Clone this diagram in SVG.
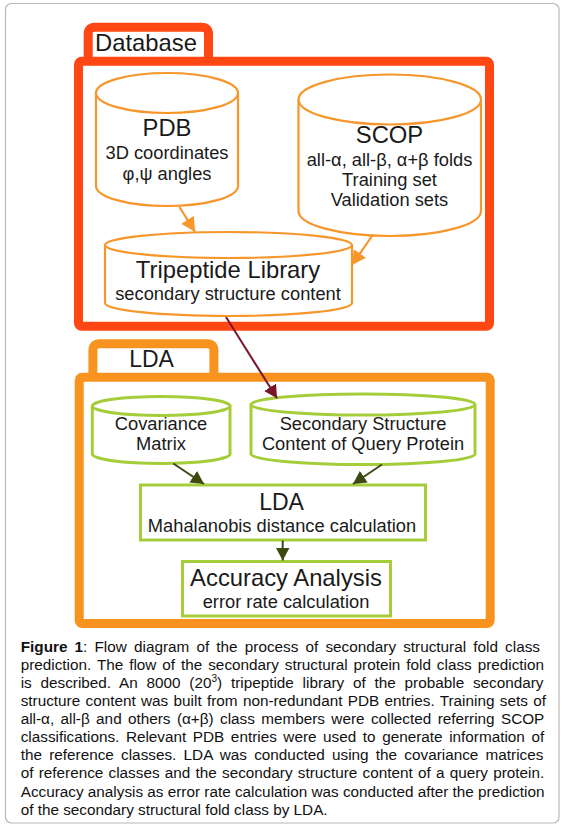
<svg xmlns="http://www.w3.org/2000/svg" width="563" height="829" viewBox="0 0 563 829">
<style>
text{font-family:"Liberation Sans",Arial,sans-serif;fill:#1a1a1a}
.c{text-anchor:middle}
.h{font-size:23.8px}
.l{font-size:23px}
.s{font-size:18.3px}
.cap{font-size:15.3px;fill:#111}
.cylO{fill:#fff;stroke:#F7962A;stroke-width:2.2}
.cylG{fill:#fff;stroke:#A5CD3A;stroke-width:3}
.boxG{fill:#fff;stroke:#A5CD3A;stroke-width:3}
.aO{stroke:#F7962A;stroke-width:2.2;fill:none}
.aM{stroke:#7A1428;stroke-width:2;fill:none}
.aG{stroke:#3C4A12;stroke-width:2;fill:none}
</style>
<defs>
<marker id="mO" markerUnits="userSpaceOnUse" markerWidth="15" markerHeight="15" refX="14" refY="7.5" orient="auto"><path d="M0,0 L14,7.5 L0,15 z" fill="#F7962A"/></marker>
<marker id="mM" markerUnits="userSpaceOnUse" markerWidth="14" markerHeight="14" refX="13" refY="7" orient="auto"><path d="M0,0 L13,7 L0,14 z" fill="#7A1428"/></marker>
<marker id="mG" markerUnits="userSpaceOnUse" markerWidth="14" markerHeight="14" refX="13" refY="7" orient="auto"><path d="M0,0 L13,7 L0,14 z" fill="#3C4A12"/></marker>
</defs>
<rect x="5.5" y="3.5" width="553.5" height="819.5" rx="6" fill="#fff" stroke="#b8b8b8" stroke-width="1.2"/>

<g id="database">
<path d="M88.2,64 V34 Q88.2,27.2 95,27.2 H201.7 Q208.5,27.2 208.5,34 V64" fill="#fff" stroke="#FF4713" stroke-width="9"/>
<rect x="78.5" y="61.2" width="411" height="265" rx="3" fill="#fff" stroke="#FF4713" stroke-width="9"/>
<text x="95" y="50.7" class="h">Database</text>
</g>

<g id="pdb">
<path class="cylO" d="M96,93 L96,186 A71,20 0 0,0 238,186 L238,93"/>
<ellipse class="cylO" cx="167" cy="93" rx="71" ry="20"/>
<text x="167" y="136" class="c h">PDB</text>
<text x="167" y="158.5" class="c s">3D coordinates</text>
<text x="167" y="179.5" class="c s">φ,ψ angles</text>
</g>

<g id="scop">
<path class="cylO" d="M298.5,99.5 L298.5,211 A91.25,25 0 0,0 481,211 L481,99.5"/>
<ellipse class="cylO" cx="389.75" cy="99.5" rx="91.25" ry="25"/>
<text x="389.5" y="143.3" class="c h">SCOP</text>
<text x="389.5" y="166" class="c s">all-α, all-β, α+β folds</text>
<text x="389.5" y="185.5" class="c s">Training set</text>
<text x="389.5" y="206" class="c s">Validation sets</text>
</g>

<g id="tripeptide">
<path class="cylO" d="M105,245 L105,303 A123.5,13 0 0,0 352,303 L352,245"/>
<ellipse class="cylO" cx="228.5" cy="245" rx="123.5" ry="13"/>
<text x="228" y="278.3" class="c h">Tripeptide Library</text>
<text x="228" y="300" class="c s">secondary structure content</text>
</g>

<g id="lda-group">
<path d="M92.9,380 V350.5 Q92.9,343.8 99.6,343.8 H207.2 Q213.9,343.8 213.9,350.5 V380" fill="#fff" stroke="#F7931E" stroke-width="9"/>
<rect x="79.2" y="377.2" width="411" height="246.3" rx="3" fill="#fff" stroke="#F7931E" stroke-width="9"/>
<text x="151.5" y="367.3" class="c l">LDA</text>
</g>

<g id="covariance">
<path class="cylG" d="M92.3,406 L92.3,454 A68.85,9.5 0 0,0 230,454 L230,406"/>
<ellipse class="cylG" cx="161.15" cy="406" rx="68.85" ry="9.5"/>
<text x="161" y="430" class="c s">Covariance</text>
<text x="161" y="450" class="c s">Matrix</text>
</g>

<g id="secondary">
<path class="cylG" d="M251,404.5 L251,454 A112,10.5 0 0,0 475,454 L475,404.5"/>
<ellipse class="cylG" cx="363" cy="404.5" rx="112" ry="10.5"/>
<text x="363" y="430" class="c s">Secondary Structure</text>
<text x="363" y="449.5" class="c s">Content of Query Protein</text>
</g>

<g id="lda">
<rect class="boxG" x="140.5" y="485" width="285" height="55"/>
<text x="281.5" y="510" class="c l">LDA</text>
<text x="282" y="531.7" class="c s">Mahalanobis distance calculation</text>
</g>

<g id="accuracy">
<rect class="boxG" x="182.5" y="561.5" width="208" height="54.5"/>
<text x="286" y="586" class="c h">Accuracy Analysis</text>
<text x="286" y="607.7" class="c s">error rate calculation</text>
</g>

<g id="connectors">
<line class="aO" x1="179.4" y1="207" x2="195" y2="231.7" marker-end="url(#mO)"/>
<line class="aO" x1="372" y1="236" x2="352" y2="265" marker-end="url(#mO)"/>
<line class="aM" x1="226" y1="317" x2="277" y2="398.3" marker-end="url(#mM)"/>
<line class="aG" x1="173.3" y1="463.5" x2="204" y2="484" marker-end="url(#mG)"/>
<line class="aG" x1="382" y1="464.5" x2="353" y2="484" marker-end="url(#mG)"/>
<line class="aG" x1="282.7" y1="540.5" x2="282.7" y2="560.5" marker-end="url(#mG)"/>
</g>

<g id="caption">
<text class="cap" x="20.7" y="651.7" word-spacing="2.92"><tspan font-weight="bold">Figure 1</tspan>: Flow diagram of the process of secondary structural fold class</text>
<text class="cap" x="20.7" y="669.8" word-spacing="1.68">prediction. The flow of the secondary structural protein fold class prediction</text>
<text class="cap" x="20.7" y="687.9" word-spacing="4.53">is described. An 8000 (20<tspan font-size="10" dy="-6">3</tspan><tspan dy="6">)</tspan> tripeptide library of the probable secondary</text>
<text class="cap" x="20.7" y="706" word-spacing="1.08">structure content was built from non-redundant PDB entries. Training sets of</text>
<text class="cap" x="20.7" y="724.1" word-spacing="2.12">all-α, all-β and others (α+β) class members were collected referring SCOP</text>
<text class="cap" x="20.7" y="742.2" word-spacing="2.33">classifications. Relevant PDB entries were used to generate information of</text>
<text class="cap" x="20.7" y="760.3" word-spacing="3.0">the reference classes. LDA was conducted using the covariance matrices</text>
<text class="cap" x="20.7" y="778.4" word-spacing="0.98">of reference classes and the secondary structure content of a query protein.</text>
<text class="cap" x="20.7" y="796.5">Accuracy analysis as error rate calculation was conducted after the prediction</text>
<text class="cap" x="20.7" y="814.6">of the secondary structural fold class by LDA.</text>
</g>
</svg>
